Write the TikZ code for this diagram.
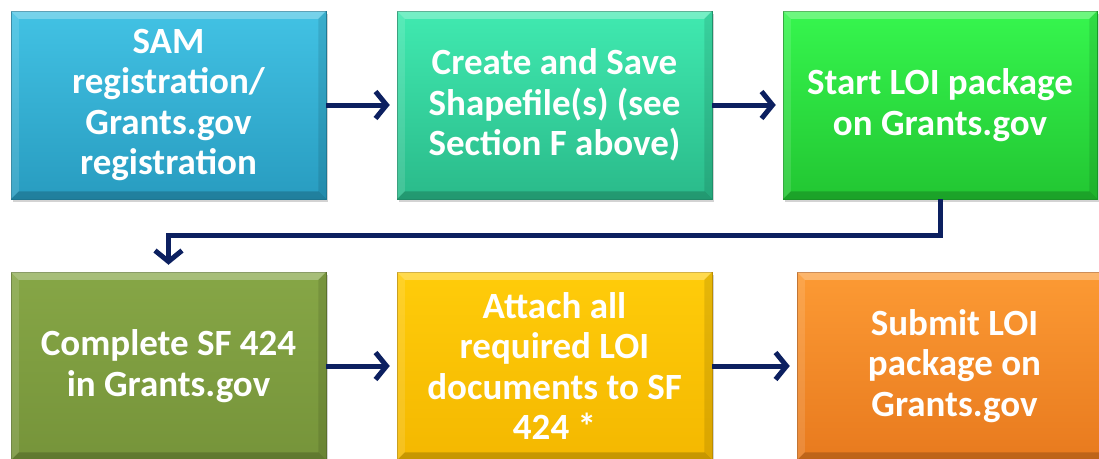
\documentclass[tikz,border=0pt]{standalone}
\usepackage{fontspec}
\setmainfont{Carlito}
\usetikzlibrary{arrows.meta,shadows}
\definecolor{navy}{RGB}{12,32,96}
\definecolor{c1t}{RGB}{66,194,228}\definecolor{c1b}{RGB}{40,156,192}
\definecolor{c2t}{RGB}{64,234,176}\definecolor{c2b}{RGB}{42,186,138}
\definecolor{c3t}{RGB}{54,246,78}\definecolor{c3b}{RGB}{34,198,50}
\definecolor{c4t}{RGB}{134,166,70}\definecolor{c4b}{RGB}{118,148,58}
\definecolor{c5t}{RGB}{255,204,10}\definecolor{c5b}{RGB}{244,184,0}
\definecolor{c6t}{RGB}{252,154,52}\definecolor{c6b}{RGB}{232,122,30}
\newcommand\bevelbox[1]{%
  \fill[white,opacity=0.28] (#1.north west) -- (#1.north east) -- ([xshift=-8pt,yshift=-8pt]#1.north east) -- ([xshift=8pt,yshift=-8pt]#1.north west) -- cycle;
  \fill[black,opacity=0.18] (#1.south west) -- (#1.south east) -- ([xshift=-8pt,yshift=8pt]#1.south east) -- ([xshift=8pt,yshift=8pt]#1.south west) -- cycle;
  \fill[white,opacity=0.12] (#1.north west) -- ([xshift=8pt,yshift=-8pt]#1.north west) -- ([xshift=8pt,yshift=8pt]#1.south west) -- (#1.south west) -- cycle;
  \fill[black,opacity=0.10] (#1.north east) -- ([xshift=-8pt,yshift=-8pt]#1.north east) -- ([xshift=-8pt,yshift=8pt]#1.south east) -- (#1.south east) -- cycle;
}
\tikzset{
  box/.style 2 args={rectangle, minimum width=315pt, minimum height=188pt, inner sep=0pt,
    align=center, text=white, font=\fontsize{37}{40.5}\selectfont\bfseries,
    top color=#1, bottom color=#2, draw=#2!80!black, line width=0.5pt,
    drop shadow={shadow xshift=2pt, shadow yshift=-3pt, opacity=0.35}},
  flow/.style={draw=navy, line width=5pt, -{Straight Barb[length=11pt,width=27pt]}, shorten >=7pt}
}
\begin{document}
\begin{tikzpicture}[x=1pt,y=-1pt]
\useasboundingbox (0,0) rectangle (1099,458);
\clip (0,0) rectangle (1099,458);
\node[box={c1t}{c1b}] (a) at (168.5,105) {SAM\\registration/\\Grants.gov\\registration};
\node[box={c2t}{c2b}] (b) at (554.5,105) {Create and Save\\Shapefile(s) (see\\Section F above)};
\node[box={c3t}{c3b}, minimum width=314pt] (c) at (940,105) {Start LOI package\\on Grants.gov};
\node[box={c4t}{c4b}] (d) at (168.5,366) {Complete SF 424\\in Grants.gov};
\node[box={c5t}{c5b}] (e) at (554.5,366) {Attach all\\required LOI\\documents to SF\\424 *};
\node[box={c6t}{c6b}] (f) at (954.5,366) {Submit LOI\\package on\\Grants.gov};
\bevelbox{a}\bevelbox{b}\bevelbox{c}\bevelbox{d}\bevelbox{e}\bevelbox{f}
\draw[flow] (a.east) -- (b.west);
\draw[flow] (b.east) -- (c.west);
\draw[flow] (c.south) -- ++(0,36) -| (d.north);
\draw[flow] (d.east) -- (e.west);
\draw[flow] (e.east) -- (f.west);
\end{tikzpicture}
\end{document}
